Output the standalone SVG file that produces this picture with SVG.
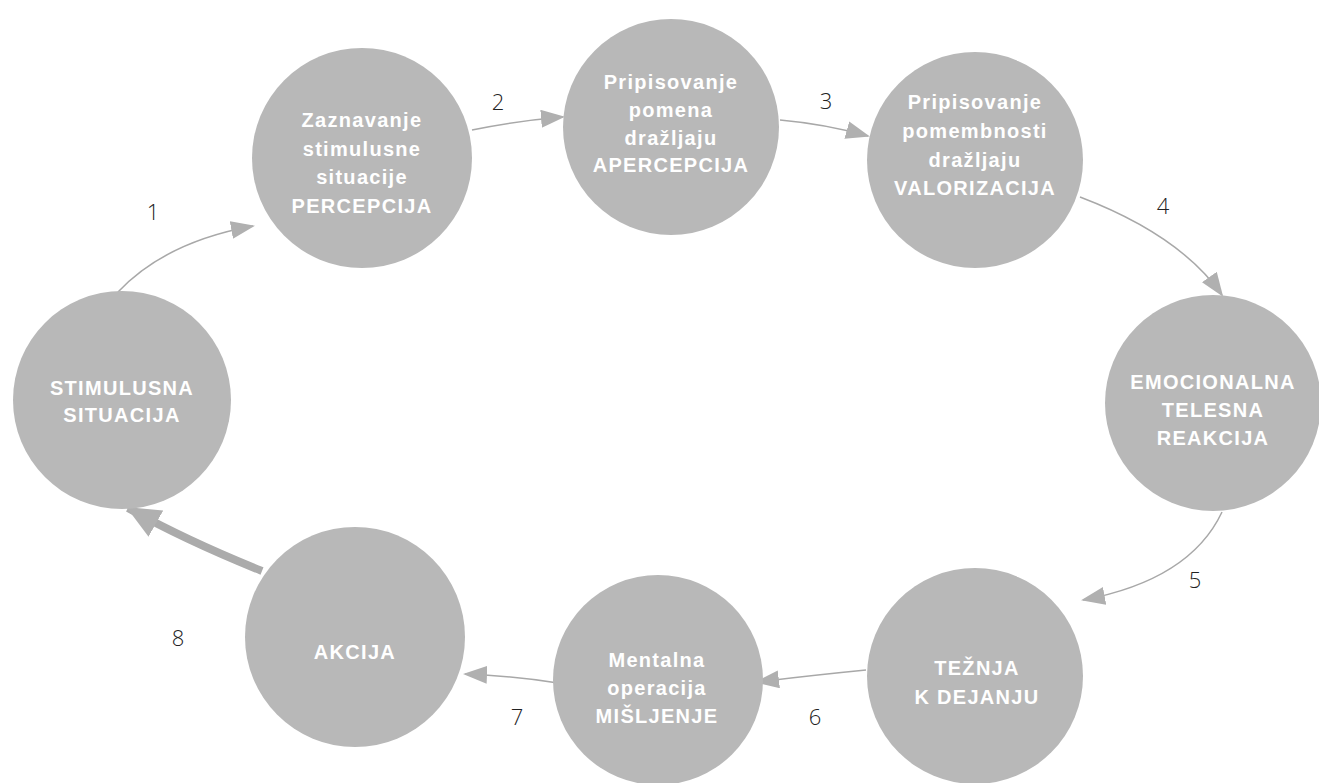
<svg xmlns="http://www.w3.org/2000/svg" width="1319" height="783" viewBox="0 0 1319 783">
<defs>
<style>
.node{fill:#b8b8b8;}
.t{font-family:"Liberation Sans",Arial,sans-serif;font-weight:bold;font-size:20px;fill:#ffffff;text-anchor:middle;letter-spacing:1.3px;}
.n{font-family:"Open Sans","Liberation Sans",sans-serif;font-weight:300;font-size:22px;fill:#222222;text-anchor:middle;}
.c{fill:none;stroke:#a8a8a8;stroke-width:1.5;}
.thick{fill:none;stroke:#ababab;stroke-width:8;}
</style>
<marker id="ah" markerWidth="24" markerHeight="18" refX="22" refY="9" orient="auto" markerUnits="userSpaceOnUse">
<path d="M0,0 L24,9 L0,18 Z" fill="#b0b0b0"/>
</marker>
<marker id="ahb" markerWidth="34" markerHeight="30" refX="32" refY="15" orient="auto" markerUnits="userSpaceOnUse">
<path d="M0,0 L34,15 L0,30 Z" fill="#b0b0b0"/>
</marker>
</defs>
<rect width="1319" height="783" fill="#ffffff"/>
<g id="connectors">
<path class="c" d="M118,292 Q165,242 253,226" marker-end="url(#ah)"/>
<path class="c" d="M472,130 Q515,121 563,117" marker-end="url(#ah)"/>
<path class="c" d="M780,120 Q825,124 868,136" marker-end="url(#ah)"/>
<path class="c" d="M1080,197 Q1180,235 1222,295" marker-end="url(#ah)"/>
<path class="c" d="M1222,512 Q1190,580 1083,600" marker-end="url(#ah)"/>
<path class="c" d="M866,670 Q815,675 757,682" marker-end="url(#ah)"/>
<path class="c" d="M558,683 Q515,676 465,674" marker-end="url(#ah)"/>
<path class="thick" d="M262,571 Q185,540 128,508" marker-end="url(#ahb)"/>
<text class="n" x="153" y="220">1</text>
<text class="n" x="498" y="110">2</text>
<text class="n" x="826" y="109">3</text>
<text class="n" x="1163" y="214">4</text>
<text class="n" x="1195" y="588">5</text>
<text class="n" x="815" y="725">6</text>
<text class="n" x="517" y="725">7</text>
<text class="n" x="178" y="646">8</text>
</g>
<g id="n-perc"><circle class="node" cx="362" cy="158" r="110"/>
<text class="t" x="362" y="127">Zaznavanje</text><text class="t" x="362" y="156">stimulusne</text><text class="t" x="362" y="184">situacije</text><text class="t" x="362" y="213">PERCEPCIJA</text></g>
<g id="n-aperc"><circle class="node" cx="671" cy="127" r="108"/>
<text class="t" x="671" y="89">Pripisovanje</text><text class="t" x="671" y="117">pomena</text><text class="t" x="671" y="145">dražljaju</text><text class="t" x="671" y="172">APERCEPCIJA</text></g>
<g id="n-val"><circle class="node" cx="975" cy="160" r="108"/>
<text class="t" x="975" y="109">Pripisovanje</text><text class="t" x="975" y="138">pomembnosti</text><text class="t" x="975" y="167">dražljaju</text><text class="t" x="975" y="195">VALORIZACIJA</text></g>
<g id="n-emo"><circle class="node" cx="1213" cy="403" r="108"/>
<text class="t" x="1213" y="389">EMOCIONALNA</text><text class="t" x="1213" y="417">TELESNA</text><text class="t" x="1213" y="445">REAKCIJA</text></g>
<g id="n-tez"><circle class="node" cx="975" cy="676" r="108"/>
<text class="t" x="977" y="675">TEŽNJA</text><text class="t" x="977" y="704">K DEJANJU</text></g>
<g id="n-mis"><circle class="node" cx="658" cy="680" r="105"/>
<text class="t" x="657" y="667">Mentalna</text><text class="t" x="657" y="695">operacija</text><text class="t" x="657" y="723">MIŠLJENJE</text></g>
<g id="n-akc"><circle class="node" cx="355" cy="637" r="110"/>
<text class="t" x="355" y="659">AKCIJA</text></g>
<g id="n-stim"><circle class="node" cx="122" cy="400" r="109"/>
<text class="t" x="122" y="395">STIMULUSNA</text><text class="t" x="122" y="422">SITUACIJA</text></g>
</svg>
